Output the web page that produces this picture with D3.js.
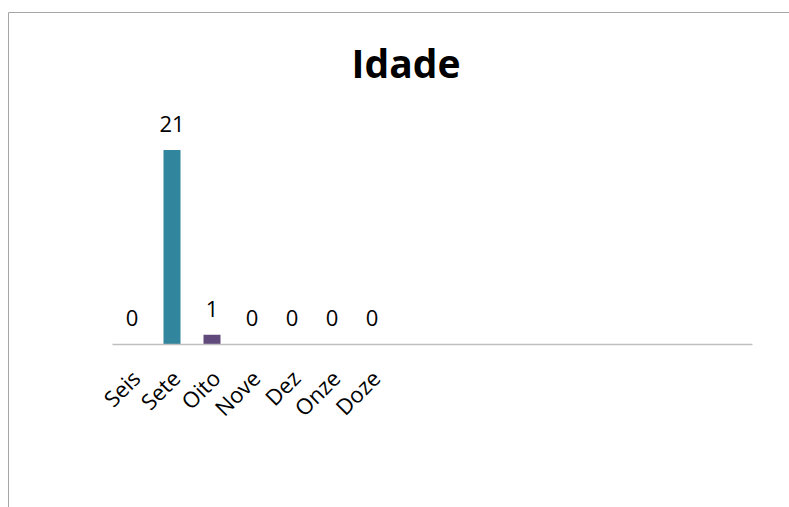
<!DOCTYPE html>
<html>
<head>
<meta charset="utf-8">
<script src="https://cdn.jsdelivr.net/npm/d3@7"></script>
<style>
  body { margin: 0; background: #fff; }
  text { font-family: "Open Sans", "Noto Sans", sans-serif; }
</style>
</head>
<body>
<div id="chart"></div>
<script>
var svgWidth = 789;
var svgHeight = 507;

// data
var categories = ["Seis", "Sete", "Oito", "Nove", "Dez", "Onze", "Doze"];
var values = [0, 21, 1, 0, 0, 0, 0];
var barColors = ["#4BACC6", "#31859C", "#604A7B", "#4F81BD", "#C0504D", "#9BBB59", "#F79646"];
var slotCount = 16; // the category axis keeps empty slots on the right

var svg = d3.select("#chart")
    .append("svg")
    .attr("width", svgWidth)
    .attr("height", svgHeight);

// chart border (cropped on right and bottom)
svg.append("path")
    .attr("d", "M8.5,507 V12.5 H789")
    .attr("fill", "none")
    .attr("stroke", "#a6a6a6")
    .attr("stroke-width", 1);

svg.append("text")
    .attr("x", 406)
    .attr("y", 78)
    .attr("text-anchor", "middle")
    .attr("font-size", "39px")
    .attr("font-weight", "bold")
    .text("Idade");

var xScale = d3.scaleBand()
    .domain(d3.range(slotCount))
    .range([112, 752])
    .paddingInner(0.575)
    .paddingOuter(0.2875);

var yScale = d3.scaleLinear()
    .domain([0, 21])
    .range([344, 150]);

var data = categories.map(function(c, i) {
    return { cat: c, val: values[i], idx: i, color: barColors[i] };
});

// bars
svg.selectAll(".bar")
    .data(data)
    .enter()
    .append("rect")
    .attr("class", "bar")
    .attr("x", d => xScale(d.idx))
    .attr("width", xScale.bandwidth())
    .attr("y", d => yScale(d.val))
    .attr("height", d => yScale(0) - yScale(d.val))
    .attr("fill", d => d.color);

// value labels
svg.selectAll(".val")
    .data(data)
    .enter()
    .append("text")
    .attr("class", "val")
    .attr("x", d => xScale(d.idx) + xScale.bandwidth() / 2)
    .attr("y", d => yScale(d.val) - 18)
    .attr("text-anchor", "middle")
    .attr("font-size", "22px")
    .attr("fill", "#000")
    .text(d => d.val);

// axis
var bottomAxis = d3.axisBottom(xScale)
    .tickSize(0)
    .tickFormat(i => i < categories.length ? categories[i] : "");

var xAxis = svg.append("g")
    .attr("transform", "translate(0,344)")
    .call(bottomAxis);

xAxis.select(".domain")
    .attr("stroke", "#bfbfbf")
    .attr("stroke-width", 1.5);

xAxis.selectAll("text")
    .attr("font-size", "22px")
    .attr("fill", "#000")
    .attr("text-anchor", "end")
    .attr("dy", null)
    .attr("y", 0)
    .attr("transform", "translate(10,36) rotate(-45)");
</script>
</body>
</html>
